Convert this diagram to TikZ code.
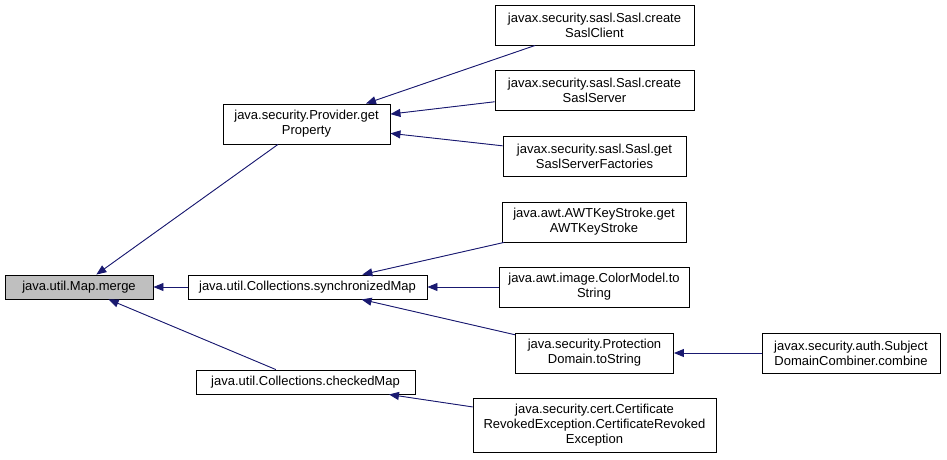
\documentclass[tikz,border=0pt]{standalone}
\usepackage{fontspec}
\setmainfont{Liberation Sans}
\usepackage{xcolor}
\usetikzlibrary{arrows.meta,positioning}
\definecolor{edgeblue}{RGB}{25,25,112}
\definecolor{curgray}{RGB}{191,191,191}

\begin{document}
\begin{tikzpicture}[x=1pt,y=-1pt,fn/.style={draw,line width=0.9pt,fill=white,align=center,inner sep=0pt,minimum height=40pt,font=\fontsize{13}{15}\selectfont},cur/.style={fn,fill=curgray,minimum height=24pt},one/.style={fn,minimum height=24pt},call/.style={{Triangle[length=10pt,width=8pt]}-,draw=edgeblue,fill=edgeblue,line width=0.9pt}]
\useasboundingbox (0,0) rectangle (947,459);
\node[cur,minimum width=148pt] (merge) at (79,287) {java.util.Map.merge};
\node[fn,minimum width=167pt] (prop) at (306.5,124) {java.security.Provider.get\\Property};
\node[one,minimum width=239pt] (sync) at (307.5,287) {java.util.Collections.synchronizedMap};
\node[one,minimum width=219pt] (chk) at (305.5,382) {java.util.Collections.checkedMap};
\node[fn,minimum width=199pt] (cli) at (594.5,25) {javax.security.sasl.Sasl.create\\SaslClient};
\node[fn,minimum width=199pt] (srv) at (594.5,90) {javax.security.sasl.Sasl.create\\SaslServer};
\node[fn,minimum width=183pt] (fac) at (594.5,156) {javax.security.sasl.Sasl.get\\SaslServerFactories};
\node[fn,minimum width=184pt] (awt) at (594,222) {java.awt.AWTKeyStroke.get\\AWTKeyStroke};
\node[fn,minimum width=190pt] (cm) at (594,287) {java.awt.image.ColorModel.to\\String};
\node[fn,minimum width=158pt] (pd) at (594.5,353) {java.security.Protection\\Domain.toString};
\node[fn,minimum width=243pt,minimum height=54pt] (crt) at (594.5,425) {java.security.cert.Certificate\\RevokedException.CertificateRevoked\\Exception};
\node[fn,minimum width=178pt] (sdc) at (851,353) {javax.security.auth.Subject\\DomainCombiner.combine};
\draw[call] (merge)--(prop);
\draw[call] (merge)--(sync);
\draw[call] (merge)--(chk);
\draw[call] (prop)--(cli);
\draw[call] (prop)--(srv);
\draw[call] (prop)--(fac);
\draw[call] (sync)--(awt);
\draw[call] (sync)--(cm);
\draw[call] (sync)--(pd);
\draw[call] (chk)--(crt);
\draw[call] (pd)--(sdc);
\end{tikzpicture}
\end{document}
